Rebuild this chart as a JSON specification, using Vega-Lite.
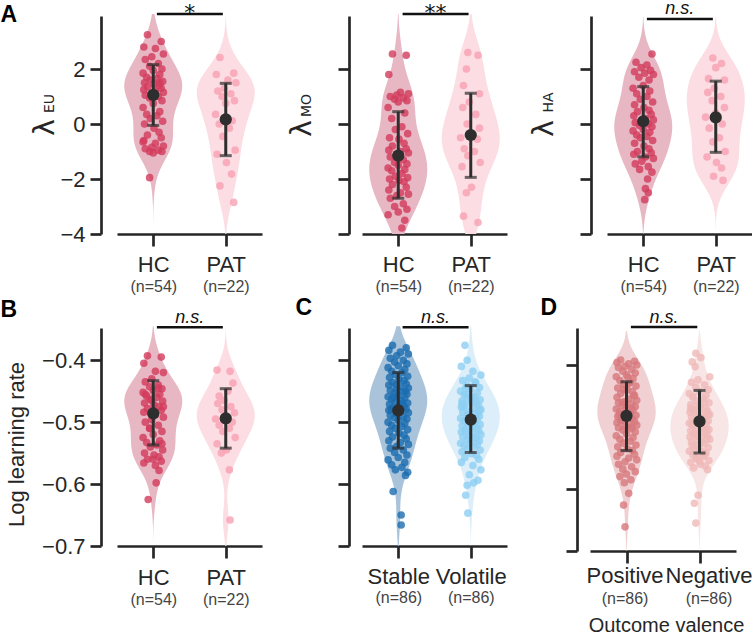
{
"$schema": "https://vega.github.io/schema/vega-lite/v6.json",
"padding": {"left": 0, "top": 0, "right": 0, "bottom": 0},
"bounds": "full",
"spacing": 2,
"config": {
  "view": {"stroke": null},
  "font": "Liberation Sans",
  "axis": {"grid": false, "domainColor": "#262626", "domainWidth": 2.7, "tickColor": "#262626", "tickWidth": 2.7, "tickSize": 12, "labelColor": "#262626", "labelFontSize": 22, "labelFont": "Liberation Sans", "titleColor": "#262626", "titleFont": "Liberation Sans", "titleFontWeight": "normal", "labelPadding": 5, "labelFlush": false, "labelOverlap": false}
},
"datasets": {
  "a1": [
    {"g":0,"v":3.25,"j":-0.08},{"g":0,"v":3.0,"j":0.11},{"g":0,"v":2.8,"j":-0.13},{"g":0,"v":2.75,"j":0.03},{"g":0,"v":2.55,"j":0.14},{"g":0,"v":2.45,"j":-0.02},{"g":0,"v":2.35,"j":-0.11},{"g":0,"v":2.2,"j":0.07},{"g":0,"v":2.1,"j":-0.05},{"g":0,"v":2.0,"j":0.12},
    {"g":0,"v":1.95,"j":0.0},{"g":0,"v":1.85,"j":-0.14},{"g":0,"v":1.8,"j":0.09},{"g":0,"v":1.7,"j":-0.09},{"g":0,"v":1.65,"j":0.05},{"g":0,"v":1.6,"j":-0.04},{"g":0,"v":1.55,"j":0.13},{"g":0,"v":1.5,"j":-0.12},{"g":0,"v":1.45,"j":0.01},{"g":0,"v":1.4,"j":0.08},
    {"g":0,"v":1.35,"j":-0.08},{"g":0,"v":1.3,"j":0.11},{"g":0,"v":1.25,"j":-0.13},{"g":0,"v":1.2,"j":0.03},{"g":0,"v":1.15,"j":0.14},{"g":0,"v":1.1,"j":-0.02},{"g":0,"v":1.05,"j":-0.11},{"g":0,"v":1.0,"j":0.07},{"g":0,"v":0.95,"j":-0.05},{"g":0,"v":0.85,"j":0.12},
    {"g":0,"v":0.75,"j":0.0},{"g":0,"v":0.6,"j":-0.14},{"g":0,"v":0.45,"j":0.09},{"g":0,"v":0.35,"j":-0.09},{"g":0,"v":0.3,"j":0.05},{"g":0,"v":0.2,"j":-0.04},{"g":0,"v":0.1,"j":0.13},{"g":0,"v":0.0,"j":-0.12},{"g":0,"v":-0.15,"j":0.01},{"g":0,"v":-0.3,"j":0.08},
    {"g":0,"v":-0.4,"j":-0.08},{"g":0,"v":-0.5,"j":0.11},{"g":0,"v":-0.6,"j":-0.13},{"g":0,"v":-0.7,"j":0.03},{"g":0,"v":-0.8,"j":0.14},{"g":0,"v":-0.85,"j":-0.02},{"g":0,"v":-0.9,"j":-0.11},{"g":0,"v":-0.95,"j":0.07},{"g":0,"v":-1.0,"j":-0.05},{"g":0,"v":-1.0,"j":0.12},
    {"g":0,"v":-1.05,"j":0.0},{"g":0,"v":-0.65,"j":-0.14},{"g":0,"v":1.5,"j":0.09},{"g":0,"v":-1.95,"j":-0.05},
    {"g":1,"v":2.42,"j":-0.08},{"g":1,"v":1.85,"j":0.11},{"g":1,"v":1.8,"j":-0.13},{"g":1,"v":1.6,"j":0.03},{"g":1,"v":1.5,"j":0.14},{"g":1,"v":1.3,"j":-0.02},{"g":1,"v":1.2,"j":-0.11},{"g":1,"v":1.1,"j":0.07},{"g":1,"v":1.0,"j":-0.05},{"g":1,"v":0.85,"j":0.12},
    {"g":1,"v":0.75,"j":0.0},{"g":1,"v":0.35,"j":-0.14},{"g":1,"v":0.12,"j":0.09},{"g":1,"v":0.0,"j":-0.09},{"g":1,"v":-0.15,"j":0.05},{"g":1,"v":-0.45,"j":-0.04},{"g":1,"v":-0.95,"j":0.13},{"g":1,"v":-1.1,"j":-0.12},{"g":1,"v":-1.4,"j":0.01},{"g":1,"v":-1.82,"j":0.08},
    {"g":1,"v":-2.25,"j":-0.08},{"g":1,"v":-2.85,"j":0.11}
  ],
  "a1s": [{"g":0,"m":1.06,"lo":-0.05,"hi":2.16},{"g":1,"m":0.17,"lo":-1.15,"hi":1.48}],
  "a1g": [{"x1":0.05,"x2":0.96,"xm":0.505,"y":4.0,"t":"*"}],
  "a2": [
    {"g":0,"v":2.55,"j":-0.08},{"g":0,"v":2.5,"j":0.11},{"g":0,"v":1.8,"j":-0.13},{"g":0,"v":1.15,"j":0.03},{"g":0,"v":1.1,"j":0.14},{"g":0,"v":1.05,"j":-0.02},{"g":0,"v":1.0,"j":-0.11},{"g":0,"v":0.95,"j":0.07},{"g":0,"v":0.9,"j":-0.05},{"g":0,"v":0.85,"j":0.12},
    {"g":0,"v":0.8,"j":0.0},{"g":0,"v":0.6,"j":-0.14},{"g":0,"v":0.4,"j":0.09},{"g":0,"v":0.2,"j":-0.09},{"g":0,"v":-0.1,"j":0.05},{"g":0,"v":-0.2,"j":-0.04},{"g":0,"v":-0.35,"j":0.13},{"g":0,"v":-0.5,"j":-0.12},{"g":0,"v":-0.55,"j":0.01},{"g":0,"v":-0.7,"j":0.08},
    {"g":0,"v":-0.8,"j":-0.08},{"g":0,"v":-0.9,"j":0.11},{"g":0,"v":-0.95,"j":-0.13},{"g":0,"v":-1.0,"j":0.03},{"g":0,"v":-1.05,"j":0.14},{"g":0,"v":-1.1,"j":-0.02},{"g":0,"v":-1.2,"j":-0.11},{"g":0,"v":-1.3,"j":0.07},{"g":0,"v":-1.4,"j":-0.05},{"g":0,"v":-1.45,"j":0.12},
    {"g":0,"v":-1.5,"j":0.0},{"g":0,"v":-1.6,"j":-0.14},{"g":0,"v":-1.65,"j":0.09},{"g":0,"v":-1.7,"j":-0.09},{"g":0,"v":-1.8,"j":0.05},{"g":0,"v":-1.9,"j":-0.04},{"g":0,"v":-1.95,"j":0.13},{"g":0,"v":-2.0,"j":-0.12},{"g":0,"v":-2.05,"j":0.01},{"g":0,"v":-2.1,"j":0.08},
    {"g":0,"v":-2.2,"j":-0.08},{"g":0,"v":-2.3,"j":0.11},{"g":0,"v":-2.4,"j":-0.13},{"g":0,"v":-2.5,"j":0.03},{"g":0,"v":-2.55,"j":0.14},{"g":0,"v":-2.6,"j":-0.02},{"g":0,"v":-2.7,"j":-0.11},{"g":0,"v":-2.9,"j":0.07},{"g":0,"v":-3.0,"j":-0.05},{"g":0,"v":-3.1,"j":0.12},
    {"g":0,"v":-3.2,"j":0.0},{"g":0,"v":-3.3,"j":-0.14},{"g":0,"v":-3.5,"j":0.09},{"g":0,"v":-3.78,"j":0.05},
    {"g":1,"v":2.6,"j":-0.04},{"g":1,"v":2.5,"j":0.1},{"g":1,"v":2.0,"j":-0.06},{"g":1,"v":1.4,"j":-0.1},{"g":1,"v":1.1,"j":0.12},{"g":1,"v":0.8,"j":-0.02},{"g":1,"v":0.6,"j":-0.11},{"g":1,"v":0.35,"j":0.07},{"g":1,"v":0.0,"j":-0.05},{"g":1,"v":-0.15,"j":0.12},
    {"g":1,"v":-0.35,"j":0.0},{"g":1,"v":-0.5,"j":-0.14},{"g":1,"v":-0.55,"j":0.09},{"g":1,"v":-0.9,"j":-0.09},{"g":1,"v":-1.0,"j":0.05},{"g":1,"v":-1.15,"j":-0.04},{"g":1,"v":-1.4,"j":0.13},{"g":1,"v":-1.55,"j":-0.12},{"g":1,"v":-2.3,"j":0.01},{"g":1,"v":-2.5,"j":-0.06},
    {"g":1,"v":-3.35,"j":-0.1},{"g":1,"v":-3.58,"j":0.1}
  ],
  "a2s": [{"g":0,"m":-1.15,"lo":-2.7,"hi":0.45},{"g":1,"m":-0.4,"lo":-1.94,"hi":1.12}],
  "a2g": [{"x1":0.06,"x2":0.97,"xm":0.515,"y":4.0,"t":"**"}],
  "a3": [
    {"g":0,"v":2.55,"j":0.12},{"g":0,"v":2.25,"j":-0.1},{"g":0,"v":2.15,"j":0.05},{"g":0,"v":2.05,"j":-0.03},{"g":0,"v":1.95,"j":0.1},{"g":0,"v":1.9,"j":-0.12},{"g":0,"v":1.85,"j":0.02},{"g":0,"v":1.8,"j":0.14},{"g":0,"v":1.7,"j":-0.06},{"g":0,"v":1.6,"j":0.08},
    {"g":0,"v":1.4,"j":0.0},{"g":0,"v":1.3,"j":-0.14},{"g":0,"v":1.2,"j":0.09},{"g":0,"v":1.1,"j":-0.09},{"g":0,"v":1.0,"j":0.05},{"g":0,"v":0.9,"j":-0.04},{"g":0,"v":0.8,"j":0.13},{"g":0,"v":0.7,"j":-0.12},{"g":0,"v":0.6,"j":0.01},{"g":0,"v":0.5,"j":0.08},
    {"g":0,"v":0.45,"j":-0.08},{"g":0,"v":0.35,"j":0.11},{"g":0,"v":0.3,"j":-0.13},{"g":0,"v":0.2,"j":0.03},{"g":0,"v":0.15,"j":0.14},{"g":0,"v":0.1,"j":-0.02},{"g":0,"v":0.05,"j":-0.11},{"g":0,"v":0.0,"j":0.07},{"g":0,"v":-0.05,"j":-0.05},{"g":0,"v":-0.1,"j":0.12},
    {"g":0,"v":-0.2,"j":0.0},{"g":0,"v":-0.25,"j":-0.14},{"g":0,"v":-0.3,"j":0.09},{"g":0,"v":-0.4,"j":-0.09},{"g":0,"v":-0.45,"j":0.05},{"g":0,"v":-0.5,"j":-0.04},{"g":0,"v":-0.6,"j":0.13},{"g":0,"v":-0.7,"j":-0.12},{"g":0,"v":-0.8,"j":0.01},{"g":0,"v":-0.9,"j":0.08},
    {"g":0,"v":-1.0,"j":-0.08},{"g":0,"v":-1.05,"j":0.11},{"g":0,"v":-1.1,"j":-0.13},{"g":0,"v":-1.2,"j":0.03},{"g":0,"v":-1.25,"j":0.14},{"g":0,"v":-1.35,"j":-0.02},{"g":0,"v":-1.45,"j":-0.11},{"g":0,"v":-1.55,"j":0.07},{"g":0,"v":-1.65,"j":-0.05},{"g":0,"v":-1.75,"j":0.12},
    {"g":0,"v":-2.0,"j":0.06},{"g":0,"v":-2.35,"j":0.03},{"g":0,"v":-2.5,"j":0.07},{"g":0,"v":-2.75,"j":0.02},
    {"g":1,"v":2.4,"j":-0.04},{"g":1,"v":2.2,"j":0.08},{"g":1,"v":2.05,"j":0.0},{"g":1,"v":1.65,"j":-0.1},{"g":1,"v":1.6,"j":0.12},{"g":1,"v":1.3,"j":-0.02},{"g":1,"v":1.15,"j":-0.11},{"g":1,"v":1.0,"j":0.07},{"g":1,"v":0.85,"j":-0.05},{"g":1,"v":0.6,"j":0.12},
    {"g":1,"v":0.4,"j":0.0},{"g":1,"v":0.25,"j":-0.14},{"g":1,"v":0.0,"j":0.09},{"g":1,"v":-0.15,"j":-0.09},{"g":1,"v":-0.5,"j":0.05},{"g":1,"v":-0.65,"j":-0.04},{"g":1,"v":-1.0,"j":0.13},{"g":1,"v":-1.2,"j":-0.12},{"g":1,"v":-1.4,"j":0.01},{"g":1,"v":-1.6,"j":0.08},
    {"g":1,"v":-1.9,"j":-0.03},{"g":1,"v":-2.05,"j":0.1}
  ],
  "a3s": [{"g":0,"m":0.1,"lo":-1.19,"hi":1.36},{"g":1,"m":0.24,"lo":-1.03,"hi":1.56}],
  "a3g": [{"x1":0.05,"x2":0.96,"xm":0.505,"y":3.82,"t":"n.s."}],
  "b": [
    {"g":0,"v":-0.393,"j":-0.08},{"g":0,"v":-0.395,"j":0.11},{"g":0,"v":-0.405,"j":-0.13},{"g":0,"v":-0.418,"j":0.03},{"g":0,"v":-0.42,"j":0.14},{"g":0,"v":-0.43,"j":-0.02},{"g":0,"v":-0.435,"j":-0.11},{"g":0,"v":-0.44,"j":0.07},{"g":0,"v":-0.443,"j":-0.05},{"g":0,"v":-0.446,"j":0.12},
    {"g":0,"v":-0.449,"j":0.0},{"g":0,"v":-0.452,"j":-0.14},{"g":0,"v":-0.455,"j":0.09},{"g":0,"v":-0.458,"j":-0.09},{"g":0,"v":-0.46,"j":0.05},{"g":0,"v":-0.463,"j":-0.04},{"g":0,"v":-0.466,"j":0.13},{"g":0,"v":-0.469,"j":-0.12},{"g":0,"v":-0.472,"j":0.01},{"g":0,"v":-0.475,"j":0.08},
    {"g":0,"v":-0.478,"j":-0.08},{"g":0,"v":-0.481,"j":0.11},{"g":0,"v":-0.484,"j":-0.13},{"g":0,"v":-0.488,"j":0.03},{"g":0,"v":-0.492,"j":0.14},{"g":0,"v":-0.496,"j":-0.02},{"g":0,"v":-0.5,"j":-0.11},{"g":0,"v":-0.505,"j":0.07},{"g":0,"v":-0.51,"j":-0.05},{"g":0,"v":-0.515,"j":0.12},
    {"g":0,"v":-0.52,"j":0.0},{"g":0,"v":-0.525,"j":-0.14},{"g":0,"v":-0.53,"j":0.09},{"g":0,"v":-0.533,"j":-0.09},{"g":0,"v":-0.537,"j":0.05},{"g":0,"v":-0.54,"j":-0.04},{"g":0,"v":-0.545,"j":0.13},{"g":0,"v":-0.55,"j":-0.12},{"g":0,"v":-0.553,"j":0.01},{"g":0,"v":-0.556,"j":0.08},
    {"g":0,"v":-0.56,"j":-0.08},{"g":0,"v":-0.563,"j":0.11},{"g":0,"v":-0.566,"j":-0.13},{"g":0,"v":-0.57,"j":0.03},{"g":0,"v":-0.475,"j":0.14},{"g":0,"v":-0.465,"j":-0.02},{"g":0,"v":-0.455,"j":-0.11},{"g":0,"v":-0.445,"j":0.07},{"g":0,"v":-0.51,"j":-0.05},{"g":0,"v":-0.535,"j":0.12},
    {"g":0,"v":-0.56,"j":0.0},{"g":0,"v":-0.598,"j":0.04},{"g":0,"v":-0.578,"j":0.08},{"g":0,"v":-0.625,"j":-0.07},
    {"g":1,"v":-0.416,"j":-0.12},{"g":1,"v":-0.418,"j":0.06},{"g":1,"v":-0.437,"j":0.1},{"g":1,"v":-0.45,"j":0.03},{"g":1,"v":-0.458,"j":-0.09},{"g":1,"v":-0.465,"j":-0.02},{"g":1,"v":-0.47,"j":-0.11},{"g":1,"v":-0.475,"j":0.07},{"g":1,"v":-0.48,"j":-0.05},{"g":1,"v":-0.485,"j":0.12},
    {"g":1,"v":-0.49,"j":0.0},{"g":1,"v":-0.495,"j":-0.14},{"g":1,"v":-0.5,"j":0.09},{"g":1,"v":-0.505,"j":-0.09},{"g":1,"v":-0.51,"j":0.05},{"g":1,"v":-0.515,"j":-0.04},{"g":1,"v":-0.525,"j":0.13},{"g":1,"v":-0.535,"j":-0.12},{"g":1,"v":-0.545,"j":0.01},{"g":1,"v":-0.55,"j":-0.06},
    {"g":1,"v":-0.577,"j":0.05},{"g":1,"v":-0.658,"j":0.06}
  ],
  "bs": [{"g":0,"m":-0.486,"lo":-0.537,"hi":-0.433},{"g":1,"m":-0.494,"lo":-0.542,"hi":-0.446}],
  "bg": [{"x1":0.05,"x2":0.96,"xm":0.505,"y":-0.3468,"t":"n.s."}],
  "c": [
    {"g":0,"v":-0.376,"j":-0.08},{"g":0,"v":-0.38,"j":0.11},{"g":0,"v":-0.384,"j":-0.13},{"g":0,"v":-0.387,"j":0.03},{"g":0,"v":-0.39,"j":0.14},{"g":0,"v":-0.393,"j":-0.02},{"g":0,"v":-0.397,"j":-0.11},{"g":0,"v":-0.4,"j":0.07},{"g":0,"v":-0.403,"j":-0.05},{"g":0,"v":-0.406,"j":0.12},
    {"g":0,"v":-0.409,"j":0.0},{"g":0,"v":-0.412,"j":-0.14},{"g":0,"v":-0.415,"j":0.09},{"g":0,"v":-0.418,"j":-0.09},{"g":0,"v":-0.42,"j":0.05},{"g":0,"v":-0.423,"j":-0.04},{"g":0,"v":-0.426,"j":0.13},{"g":0,"v":-0.428,"j":-0.12},{"g":0,"v":-0.431,"j":0.01},{"g":0,"v":-0.433,"j":0.08},
    {"g":0,"v":-0.436,"j":-0.08},{"g":0,"v":-0.438,"j":0.11},{"g":0,"v":-0.44,"j":-0.13},{"g":0,"v":-0.443,"j":0.03},{"g":0,"v":-0.445,"j":0.14},{"g":0,"v":-0.447,"j":-0.02},{"g":0,"v":-0.449,"j":-0.11},{"g":0,"v":-0.451,"j":0.07},{"g":0,"v":-0.453,"j":-0.05},{"g":0,"v":-0.455,"j":0.12},
    {"g":0,"v":-0.457,"j":0.0},{"g":0,"v":-0.459,"j":-0.14},{"g":0,"v":-0.461,"j":0.09},{"g":0,"v":-0.463,"j":-0.09},{"g":0,"v":-0.465,"j":0.05},{"g":0,"v":-0.467,"j":-0.04},{"g":0,"v":-0.469,"j":0.13},{"g":0,"v":-0.471,"j":-0.12},{"g":0,"v":-0.473,"j":0.01},{"g":0,"v":-0.475,"j":0.08},
    {"g":0,"v":-0.477,"j":-0.08},{"g":0,"v":-0.479,"j":0.11},{"g":0,"v":-0.481,"j":-0.13},{"g":0,"v":-0.483,"j":0.03},{"g":0,"v":-0.485,"j":0.14},{"g":0,"v":-0.487,"j":-0.02},{"g":0,"v":-0.489,"j":-0.11},{"g":0,"v":-0.491,"j":0.07},{"g":0,"v":-0.493,"j":-0.05},{"g":0,"v":-0.495,"j":0.12},
    {"g":0,"v":-0.497,"j":0.0},{"g":0,"v":-0.5,"j":-0.14},{"g":0,"v":-0.502,"j":0.09},{"g":0,"v":-0.505,"j":-0.09},{"g":0,"v":-0.507,"j":0.05},{"g":0,"v":-0.51,"j":-0.04},{"g":0,"v":-0.512,"j":0.13},{"g":0,"v":-0.515,"j":-0.12},{"g":0,"v":-0.518,"j":0.01},{"g":0,"v":-0.521,"j":0.08},
    {"g":0,"v":-0.524,"j":-0.08},{"g":0,"v":-0.527,"j":0.11},{"g":0,"v":-0.53,"j":-0.13},{"g":0,"v":-0.533,"j":0.03},{"g":0,"v":-0.536,"j":0.14},{"g":0,"v":-0.539,"j":-0.02},{"g":0,"v":-0.542,"j":-0.11},{"g":0,"v":-0.545,"j":0.07},{"g":0,"v":-0.549,"j":-0.05},{"g":0,"v":-0.553,"j":0.12},
    {"g":0,"v":-0.557,"j":0.0},{"g":0,"v":-0.561,"j":-0.14},{"g":0,"v":-0.565,"j":0.09},{"g":0,"v":-0.569,"j":-0.09},{"g":0,"v":-0.573,"j":0.05},{"g":0,"v":-0.577,"j":-0.04},{"g":0,"v":-0.581,"j":0.13},{"g":0,"v":-0.586,"j":0.1},{"g":0,"v":-0.612,"j":-0.07},{"g":0,"v":-0.65,"j":0.04},
    {"g":0,"v":-0.666,"j":0.04},{"g":0,"v":-0.46,"j":-0.06},{"g":0,"v":-0.47,"j":0.06},{"g":0,"v":-0.48,"j":-0.1},{"g":0,"v":-0.45,"j":0.1},{"g":0,"v":-0.44,"j":-0.03},
    {"g":1,"v":-0.376,"j":-0.08},{"g":1,"v":-0.4,"j":-0.05},{"g":1,"v":-0.41,"j":-0.13},{"g":1,"v":-0.418,"j":0.03},{"g":1,"v":-0.424,"j":0.14},{"g":1,"v":-0.429,"j":-0.02},{"g":1,"v":-0.433,"j":-0.11},{"g":1,"v":-0.437,"j":0.07},{"g":1,"v":-0.441,"j":-0.05},{"g":1,"v":-0.444,"j":0.12},
    {"g":1,"v":-0.447,"j":0.0},{"g":1,"v":-0.45,"j":-0.14},{"g":1,"v":-0.453,"j":0.09},{"g":1,"v":-0.456,"j":-0.09},{"g":1,"v":-0.459,"j":0.05},{"g":1,"v":-0.462,"j":-0.04},{"g":1,"v":-0.464,"j":0.13},{"g":1,"v":-0.466,"j":-0.12},{"g":1,"v":-0.468,"j":0.01},{"g":1,"v":-0.47,"j":0.08},
    {"g":1,"v":-0.472,"j":-0.08},{"g":1,"v":-0.474,"j":0.11},{"g":1,"v":-0.476,"j":-0.13},{"g":1,"v":-0.478,"j":0.03},{"g":1,"v":-0.48,"j":0.14},{"g":1,"v":-0.482,"j":-0.02},{"g":1,"v":-0.484,"j":-0.11},{"g":1,"v":-0.486,"j":0.07},{"g":1,"v":-0.488,"j":-0.05},{"g":1,"v":-0.49,"j":0.12},
    {"g":1,"v":-0.492,"j":0.0},{"g":1,"v":-0.494,"j":-0.14},{"g":1,"v":-0.496,"j":0.09},{"g":1,"v":-0.498,"j":-0.09},{"g":1,"v":-0.5,"j":0.05},{"g":1,"v":-0.502,"j":-0.04},{"g":1,"v":-0.504,"j":0.13},{"g":1,"v":-0.506,"j":-0.12},{"g":1,"v":-0.508,"j":0.01},{"g":1,"v":-0.51,"j":0.08},
    {"g":1,"v":-0.512,"j":-0.08},{"g":1,"v":-0.514,"j":0.11},{"g":1,"v":-0.516,"j":-0.13},{"g":1,"v":-0.518,"j":0.03},{"g":1,"v":-0.52,"j":0.14},{"g":1,"v":-0.522,"j":-0.02},{"g":1,"v":-0.524,"j":-0.11},{"g":1,"v":-0.526,"j":0.07},{"g":1,"v":-0.528,"j":-0.05},{"g":1,"v":-0.53,"j":0.12},
    {"g":1,"v":-0.532,"j":0.0},{"g":1,"v":-0.534,"j":-0.14},{"g":1,"v":-0.536,"j":0.09},{"g":1,"v":-0.538,"j":-0.09},{"g":1,"v":-0.54,"j":0.05},{"g":1,"v":-0.542,"j":-0.04},{"g":1,"v":-0.545,"j":0.13},{"g":1,"v":-0.548,"j":-0.12},{"g":1,"v":-0.551,"j":0.01},{"g":1,"v":-0.554,"j":0.08},
    {"g":1,"v":-0.557,"j":-0.08},{"g":1,"v":-0.56,"j":0.11},{"g":1,"v":-0.565,"j":-0.13},{"g":1,"v":-0.57,"j":0.03},{"g":1,"v":-0.577,"j":0.14},{"g":1,"v":-0.585,"j":-0.02},{"g":1,"v":-0.594,"j":0.1},{"g":1,"v":-0.598,"j":0.04},{"g":1,"v":-0.602,"j":-0.05},{"g":1,"v":-0.618,"j":-0.07},
    {"g":1,"v":-0.647,"j":-0.04},{"g":1,"v":-0.455,"j":-0.06},{"g":1,"v":-0.465,"j":0.06},{"g":1,"v":-0.475,"j":-0.1},{"g":1,"v":-0.485,"j":0.1},{"g":1,"v":-0.495,"j":-0.03},{"g":1,"v":-0.505,"j":0.03},{"g":1,"v":-0.515,"j":-0.07},{"g":1,"v":-0.525,"j":0.07},{"g":1,"v":-0.46,"j":0.0},
    {"g":1,"v":-0.47,"j":-0.12},{"g":1,"v":-0.48,"j":0.12},{"g":1,"v":-0.49,"j":-0.01},{"g":1,"v":-0.5,"j":0.02},{"g":1,"v":-0.445,"j":-0.07},{"g":1,"v":-0.435,"j":0.06}
  ],
  "cs": [{"g":0,"m":-0.481,"lo":-0.542,"hi":-0.42},{"g":1,"m":-0.496,"lo":-0.549,"hi":-0.441}],
  "cg": [{"x1":0.06,"x2":0.97,"xm":0.515,"y":-0.3468,"t":"n.s."}],
  "d": [
    {"g":0,"v":-0.392,"j":-0.08},{"g":0,"v":-0.394,"j":0.11},{"g":0,"v":-0.396,"j":-0.13},{"g":0,"v":-0.398,"j":0.03},{"g":0,"v":-0.4,"j":0.14},{"g":0,"v":-0.402,"j":-0.02},{"g":0,"v":-0.404,"j":-0.11},{"g":0,"v":-0.407,"j":0.07},{"g":0,"v":-0.41,"j":-0.05},{"g":0,"v":-0.413,"j":0.12},
    {"g":0,"v":-0.416,"j":0.0},{"g":0,"v":-0.419,"j":-0.14},{"g":0,"v":-0.422,"j":0.09},{"g":0,"v":-0.425,"j":-0.09},{"g":0,"v":-0.428,"j":0.05},{"g":0,"v":-0.431,"j":-0.04},{"g":0,"v":-0.434,"j":0.13},{"g":0,"v":-0.437,"j":-0.12},{"g":0,"v":-0.44,"j":0.01},{"g":0,"v":-0.443,"j":0.08},
    {"g":0,"v":-0.446,"j":-0.08},{"g":0,"v":-0.449,"j":0.11},{"g":0,"v":-0.452,"j":-0.13},{"g":0,"v":-0.455,"j":0.03},{"g":0,"v":-0.457,"j":0.14},{"g":0,"v":-0.459,"j":-0.02},{"g":0,"v":-0.461,"j":-0.11},{"g":0,"v":-0.463,"j":0.07},{"g":0,"v":-0.465,"j":-0.05},{"g":0,"v":-0.467,"j":0.12},
    {"g":0,"v":-0.469,"j":0.0},{"g":0,"v":-0.471,"j":-0.14},{"g":0,"v":-0.473,"j":0.09},{"g":0,"v":-0.475,"j":-0.09},{"g":0,"v":-0.477,"j":0.05},{"g":0,"v":-0.479,"j":-0.04},{"g":0,"v":-0.481,"j":0.13},{"g":0,"v":-0.483,"j":-0.12},{"g":0,"v":-0.485,"j":0.01},{"g":0,"v":-0.487,"j":0.08},
    {"g":0,"v":-0.489,"j":-0.08},{"g":0,"v":-0.491,"j":0.11},{"g":0,"v":-0.493,"j":-0.13},{"g":0,"v":-0.495,"j":0.03},{"g":0,"v":-0.497,"j":0.14},{"g":0,"v":-0.499,"j":-0.02},{"g":0,"v":-0.501,"j":-0.11},{"g":0,"v":-0.503,"j":0.07},{"g":0,"v":-0.505,"j":-0.05},{"g":0,"v":-0.508,"j":0.12},
    {"g":0,"v":-0.511,"j":0.0},{"g":0,"v":-0.514,"j":-0.14},{"g":0,"v":-0.517,"j":0.09},{"g":0,"v":-0.52,"j":-0.09},{"g":0,"v":-0.523,"j":0.05},{"g":0,"v":-0.526,"j":-0.04},{"g":0,"v":-0.529,"j":0.13},{"g":0,"v":-0.532,"j":-0.12},{"g":0,"v":-0.535,"j":0.01},{"g":0,"v":-0.538,"j":0.08},
    {"g":0,"v":-0.541,"j":-0.08},{"g":0,"v":-0.544,"j":0.11},{"g":0,"v":-0.547,"j":-0.13},{"g":0,"v":-0.55,"j":0.03},{"g":0,"v":-0.553,"j":0.14},{"g":0,"v":-0.556,"j":-0.02},{"g":0,"v":-0.56,"j":-0.11},{"g":0,"v":-0.564,"j":0.07},{"g":0,"v":-0.568,"j":-0.05},{"g":0,"v":-0.572,"j":0.12},
    {"g":0,"v":-0.576,"j":0.0},{"g":0,"v":-0.58,"j":-0.09},{"g":0,"v":-0.585,"j":0.06},{"g":0,"v":-0.59,"j":-0.03},{"g":0,"v":-0.607,"j":0.03},{"g":0,"v":-0.626,"j":-0.04},{"g":0,"v":-0.661,"j":-0.02},{"g":0,"v":-0.46,"j":-0.06},{"g":0,"v":-0.47,"j":0.06},{"g":0,"v":-0.48,"j":-0.1},
    {"g":0,"v":-0.45,"j":0.1},{"g":0,"v":-0.44,"j":-0.03},{"g":0,"v":-0.43,"j":0.03},{"g":0,"v":-0.49,"j":-0.07},{"g":0,"v":-0.5,"j":0.07},{"g":0,"v":-0.42,"j":0.02},
    {"g":1,"v":-0.381,"j":-0.05},{"g":1,"v":-0.388,"j":0.02},{"g":1,"v":-0.395,"j":-0.1},{"g":1,"v":-0.403,"j":-0.06},{"g":1,"v":-0.419,"j":0.14},{"g":1,"v":-0.424,"j":-0.02},{"g":1,"v":-0.428,"j":-0.11},{"g":1,"v":-0.432,"j":0.07},{"g":1,"v":-0.436,"j":-0.05},{"g":1,"v":-0.44,"j":0.12},
    {"g":1,"v":-0.443,"j":0.0},{"g":1,"v":-0.446,"j":-0.14},{"g":1,"v":-0.449,"j":0.09},{"g":1,"v":-0.452,"j":-0.09},{"g":1,"v":-0.455,"j":0.05},{"g":1,"v":-0.458,"j":-0.04},{"g":1,"v":-0.461,"j":0.13},{"g":1,"v":-0.464,"j":-0.12},{"g":1,"v":-0.467,"j":0.01},{"g":1,"v":-0.47,"j":0.08},
    {"g":1,"v":-0.472,"j":-0.08},{"g":1,"v":-0.474,"j":0.11},{"g":1,"v":-0.476,"j":-0.13},{"g":1,"v":-0.478,"j":0.03},{"g":1,"v":-0.48,"j":0.14},{"g":1,"v":-0.482,"j":-0.02},{"g":1,"v":-0.484,"j":-0.11},{"g":1,"v":-0.486,"j":0.07},{"g":1,"v":-0.488,"j":-0.05},{"g":1,"v":-0.49,"j":0.12},
    {"g":1,"v":-0.492,"j":0.0},{"g":1,"v":-0.494,"j":-0.14},{"g":1,"v":-0.496,"j":0.09},{"g":1,"v":-0.498,"j":-0.09},{"g":1,"v":-0.5,"j":0.05},{"g":1,"v":-0.502,"j":-0.04},{"g":1,"v":-0.504,"j":0.13},{"g":1,"v":-0.506,"j":-0.12},{"g":1,"v":-0.508,"j":0.01},{"g":1,"v":-0.51,"j":0.08},
    {"g":1,"v":-0.512,"j":-0.08},{"g":1,"v":-0.514,"j":0.11},{"g":1,"v":-0.516,"j":-0.13},{"g":1,"v":-0.518,"j":0.03},{"g":1,"v":-0.52,"j":0.14},{"g":1,"v":-0.522,"j":-0.02},{"g":1,"v":-0.524,"j":-0.11},{"g":1,"v":-0.527,"j":0.07},{"g":1,"v":-0.53,"j":-0.05},{"g":1,"v":-0.533,"j":0.12},
    {"g":1,"v":-0.536,"j":0.0},{"g":1,"v":-0.539,"j":-0.14},{"g":1,"v":-0.542,"j":0.09},{"g":1,"v":-0.545,"j":-0.09},{"g":1,"v":-0.548,"j":0.05},{"g":1,"v":-0.551,"j":-0.04},{"g":1,"v":-0.554,"j":0.13},{"g":1,"v":-0.557,"j":-0.12},{"g":1,"v":-0.56,"j":0.01},{"g":1,"v":-0.563,"j":0.08},
    {"g":1,"v":-0.566,"j":-0.08},{"g":1,"v":-0.569,"j":0.11},{"g":1,"v":-0.61,"j":-0.02},{"g":1,"v":-0.623,"j":-0.07},{"g":1,"v":-0.655,"j":-0.05},{"g":1,"v":-0.465,"j":-0.02},{"g":1,"v":-0.475,"j":-0.06},{"g":1,"v":-0.485,"j":0.06},{"g":1,"v":-0.495,"j":-0.1},{"g":1,"v":-0.505,"j":0.1},
    {"g":1,"v":-0.515,"j":-0.03},{"g":1,"v":-0.525,"j":0.03},{"g":1,"v":-0.535,"j":-0.07},{"g":1,"v":-0.545,"j":0.07},{"g":1,"v":-0.555,"j":0.0},{"g":1,"v":-0.47,"j":-0.12},{"g":1,"v":-0.48,"j":0.12},{"g":1,"v":-0.49,"j":-0.01},{"g":1,"v":-0.5,"j":0.02},{"g":1,"v":-0.51,"j":-0.07},
    {"g":1,"v":-0.46,"j":0.06},{"g":1,"v":-0.45,"j":-0.09},{"g":1,"v":-0.52,"j":0.1},{"g":1,"v":-0.53,"j":-0.1},{"g":1,"v":-0.54,"j":0.04},{"g":1,"v":-0.55,"j":-0.04}
  ],
  "ds": [{"g":0,"m":-0.482,"lo":-0.538,"hi":-0.427},{"g":1,"m":-0.491,"lo":-0.542,"hi":-0.441}],
  "dg": [{"x1":0.06,"x2":0.97,"xm":0.515,"y":-0.3387,"t":"n.s."}]
},
"vconcat": [
  {"hconcat": [
    {"width":145,"height":218,
     "layer":[
      {"layer":[
        {"data":{"name":"a1"},
         "transform":[{"density":"v","groupby":["g"],"extent":[-4,4],"steps":200,"bandwidth":0.6},{"joinaggregate":[{"op":"max","field":"density","as":"md"}],"groupby":["g"]},{"calculate":"datum.g-0.4*datum.density/datum.md","as":"xl"},{"calculate":"datum.g+0.4*datum.density/datum.md","as":"xr"}],
         "mark":{"type":"area","orient":"horizontal"},
         "encoding":{
           "y":{"field":"value","type":"quantitative","scale":{"domain":[-4,3.93],"nice":false,"zero":false},"axis":{"values":[-4,-2,0,2],"format":"d","offset":16,"tickSize":11,"labelPadding":5,"title":"λ","titleFont":"DejaVu Sans","titleFontSize":28,"titleAngle":270,"titleAlign":"center","titleBaseline":"alphabetic","titleX":-48,"titleY":111}},
           "x":{"field":"xl","type":"quantitative","scale":{"domain":[-0.5,1.5],"nice":false,"zero":false},"axis":{"values":[0,1],"labelExpr":"datum.value==0?'HC':'PAT'","title":null,"labelBaseline":"alphabetic","labelPadding":25}},
           "x2":{"field":"xr"},
           "detail":{"field":"g","type":"nominal"},
           "color":{"condition":{"test":"datum.g==0","value":"#e8b7c4"},"value":"#fbdde3"}}},
        {"data":{"name":"a1"},"transform":[{"calculate":"datum.g+datum.j","as":"px"}],
         "mark":{"type":"circle","size":58,"opacity":0.8},
         "encoding":{"x":{"field":"px","type":"quantitative"},"y":{"field":"v","type":"quantitative"},"color":{"condition":{"test":"datum.g==0","value":"#d23b5c"},"value":"#f9a1b2"}}},
        {"data":{"name":"a1s"},"mark":{"type":"rule","strokeWidth":3,"color":"#2e2e2e"},
         "encoding":{"x":{"field":"g","type":"quantitative"},"y":{"field":"lo","type":"quantitative"},"y2":{"field":"hi"}}},
        {"data":{"name":"a1s"},"transform":[{"fold":["lo","hi"],"as":["k","e"]}],"mark":{"type":"tick","orient":"horizontal","size":12,"thickness":3,"color":"#2e2e2e"},
         "encoding":{"x":{"field":"g","type":"quantitative"},"y":{"field":"e","type":"quantitative"}}},
        {"data":{"name":"a1s"},"mark":{"type":"circle","size":150,"opacity":1,"color":"#2e2e2e"},
         "encoding":{"x":{"field":"g","type":"quantitative"},"y":{"field":"m","type":"quantitative"}}},
        {"data":{"name":"a1g"},"mark":{"type":"rule","strokeWidth":2.5,"color":"#111111"},
         "encoding":{"x":{"field":"x1","type":"quantitative"},"x2":{"field":"x2"},"y":{"field":"y","type":"quantitative"}}},
        {"data":{"name":"a1g"},"mark":{"type":"text","baseline":"alphabetic","dy":6,"font":"DejaVu Sans","fontSize":22,"color":"#111111"},
         "encoding":{"x":{"field":"xm","type":"quantitative"},"y":{"field":"y","type":"quantitative"},"text":{"field":"t"}}}
      ]},
      {"data":{"name":"a1s"},"mark":{"type":"point","opacity":0},
       "encoding":{
         "x":{"field":"g","type":"quantitative","axis":{"orient":"bottom","values":[0,1],"labelExpr":"datum.value==0?'(n=54)':'(n=22)'","domain":false,"ticks":false,"labelFontSize":16,"labelPadding":57,"labelBaseline":"alphabetic","labelColor":"#444444","title":"A","titleX":-117,"titleY":-213,"titleAlign":"left","titleBaseline":"alphabetic","titleAngle":0,"titleFontSize":23,"titleFontWeight":"bold","titleColor":"#000000"}},
         "y":{"field":"m","type":"quantitative","axis":{"orient":"left","labels":false,"ticks":false,"domain":false,"title":"EU","titleFont":"DejaVu Sans","titleFontSize":14,"titleAngle":270,"titleAlign":"center","titleBaseline":"alphabetic","titleX":-64,"titleY":87}}}}
     ],
     "resolve":{"axis":{"x":"independent","y":"independent"}}},
    {"width":145,"height":218,
     "layer":[
      {"layer":[
        {"data":{"name":"a2"},
         "transform":[{"density":"v","groupby":["g"],"extent":[-4,4],"steps":200,"bandwidth":0.7},{"joinaggregate":[{"op":"max","field":"density","as":"md"}],"groupby":["g"]},{"calculate":"datum.g-0.4*datum.density/datum.md","as":"xl"},{"calculate":"datum.g+0.4*datum.density/datum.md","as":"xr"}],
         "mark":{"type":"area","orient":"horizontal"},
         "encoding":{
           "y":{"field":"value","type":"quantitative","scale":{"domain":[-4,3.93],"nice":false,"zero":false},"axis":{"values":[-4,-2,0,2],"labels":false,"offset":13,"tickSize":11,"title":"λ","titleFont":"DejaVu Sans","titleFontSize":28,"titleAngle":270,"titleAlign":"center","titleBaseline":"alphabetic","titleX":-39,"titleY":112}},
           "x":{"field":"xl","type":"quantitative","scale":{"domain":[-0.5,1.5],"nice":false,"zero":false},"axis":{"values":[0,1],"labelExpr":"datum.value==0?'HC':'PAT'","title":null,"labelBaseline":"alphabetic","labelPadding":25}},
           "x2":{"field":"xr"},
           "detail":{"field":"g","type":"nominal"},
           "color":{"condition":{"test":"datum.g==0","value":"#e8b7c4"},"value":"#fbdde3"}}},
        {"data":{"name":"a2"},"transform":[{"calculate":"datum.g+datum.j","as":"px"}],
         "mark":{"type":"circle","size":58,"opacity":0.8},
         "encoding":{"x":{"field":"px","type":"quantitative"},"y":{"field":"v","type":"quantitative"},"color":{"condition":{"test":"datum.g==0","value":"#d23b5c"},"value":"#f9a1b2"}}},
        {"data":{"name":"a2s"},"mark":{"type":"rule","strokeWidth":3,"color":"#2e2e2e"},
         "encoding":{"x":{"field":"g","type":"quantitative"},"y":{"field":"lo","type":"quantitative"},"y2":{"field":"hi"}}},
        {"data":{"name":"a2s"},"transform":[{"fold":["lo","hi"],"as":["k","e"]}],"mark":{"type":"tick","orient":"horizontal","size":12,"thickness":3,"color":"#2e2e2e"},
         "encoding":{"x":{"field":"g","type":"quantitative"},"y":{"field":"e","type":"quantitative"}}},
        {"data":{"name":"a2s"},"mark":{"type":"circle","size":150,"opacity":1,"color":"#2e2e2e"},
         "encoding":{"x":{"field":"g","type":"quantitative"},"y":{"field":"m","type":"quantitative"}}},
        {"data":{"name":"a2g"},"mark":{"type":"rule","strokeWidth":2.5,"color":"#111111"},
         "encoding":{"x":{"field":"x1","type":"quantitative"},"x2":{"field":"x2"},"y":{"field":"y","type":"quantitative"}}},
        {"data":{"name":"a2g"},"mark":{"type":"text","baseline":"alphabetic","dy":6,"font":"DejaVu Sans","fontSize":22,"color":"#111111"},
         "encoding":{"x":{"field":"xm","type":"quantitative"},"y":{"field":"y","type":"quantitative"},"text":{"field":"t"}}}
      ]},
      {"data":{"name":"a2s"},"mark":{"type":"point","opacity":0},
       "encoding":{
         "x":{"field":"g","type":"quantitative","axis":{"orient":"bottom","values":[0,1],"labelExpr":"datum.value==0?'(n=54)':'(n=22)'","domain":false,"ticks":false,"labelFontSize":16,"labelPadding":57,"labelBaseline":"alphabetic","labelColor":"#444444","title":null}},
         "y":{"field":"m","type":"quantitative","axis":{"orient":"left","labels":false,"ticks":false,"domain":false,"title":"MO","titleFont":"DejaVu Sans","titleFontSize":14,"titleAngle":270,"titleAlign":"center","titleBaseline":"alphabetic","titleX":-52,"titleY":89}}}}
     ],
     "resolve":{"axis":{"x":"independent","y":"independent"}}},
    {"width":145,"height":218,
     "layer":[
      {"layer":[
        {"data":{"name":"a3"},
         "transform":[{"density":"v","groupby":["g"],"extent":[-4,3.9],"steps":200,"bandwidth":0.6},{"joinaggregate":[{"op":"max","field":"density","as":"md"}],"groupby":["g"]},{"calculate":"datum.g-0.4*datum.density/datum.md","as":"xl"},{"calculate":"datum.g+0.4*datum.density/datum.md","as":"xr"}],
         "mark":{"type":"area","orient":"horizontal"},
         "encoding":{
           "y":{"field":"value","type":"quantitative","scale":{"domain":[-4,3.93],"nice":false,"zero":false},"axis":{"values":[-4,-2,0,2],"labels":false,"offset":16,"tickSize":11,"title":"λ","titleFont":"DejaVu Sans","titleFontSize":28,"titleAngle":270,"titleAlign":"center","titleBaseline":"alphabetic","titleX":-39,"titleY":112}},
           "x":{"field":"xl","type":"quantitative","scale":{"domain":[-0.5,1.5],"nice":false,"zero":false},"axis":{"values":[0,1],"labelExpr":"datum.value==0?'HC':'PAT'","title":null,"labelBaseline":"alphabetic","labelPadding":25}},
           "x2":{"field":"xr"},
           "detail":{"field":"g","type":"nominal"},
           "color":{"condition":{"test":"datum.g==0","value":"#e8b7c4"},"value":"#fbdde3"}}},
        {"data":{"name":"a3"},"transform":[{"calculate":"datum.g+datum.j","as":"px"}],
         "mark":{"type":"circle","size":58,"opacity":0.8},
         "encoding":{"x":{"field":"px","type":"quantitative"},"y":{"field":"v","type":"quantitative"},"color":{"condition":{"test":"datum.g==0","value":"#d23b5c"},"value":"#f9a1b2"}}},
        {"data":{"name":"a3s"},"mark":{"type":"rule","strokeWidth":3,"color":"#2e2e2e"},
         "encoding":{"x":{"field":"g","type":"quantitative"},"y":{"field":"lo","type":"quantitative"},"y2":{"field":"hi"}}},
        {"data":{"name":"a3s"},"transform":[{"fold":["lo","hi"],"as":["k","e"]}],"mark":{"type":"tick","orient":"horizontal","size":12,"thickness":3,"color":"#2e2e2e"},
         "encoding":{"x":{"field":"g","type":"quantitative"},"y":{"field":"e","type":"quantitative"}}},
        {"data":{"name":"a3s"},"mark":{"type":"circle","size":150,"opacity":1,"color":"#2e2e2e"},
         "encoding":{"x":{"field":"g","type":"quantitative"},"y":{"field":"m","type":"quantitative"}}},
        {"data":{"name":"a3g"},"mark":{"type":"rule","strokeWidth":2.5,"color":"#111111"},
         "encoding":{"x":{"field":"x1","type":"quantitative"},"x2":{"field":"x2"},"y":{"field":"y","type":"quantitative"}}},
        {"data":{"name":"a3g"},"mark":{"type":"text","baseline":"alphabetic","dy":-5,"fontSize":18,"fontStyle":"italic","color":"#111111"},
         "encoding":{"x":{"field":"xm","type":"quantitative"},"y":{"field":"y","type":"quantitative"},"text":{"field":"t"}}}
      ]},
      {"data":{"name":"a3s"},"mark":{"type":"point","opacity":0},
       "encoding":{
         "x":{"field":"g","type":"quantitative","axis":{"orient":"bottom","values":[0,1],"labelExpr":"datum.value==0?'(n=54)':'(n=22)'","domain":false,"ticks":false,"labelFontSize":16,"labelPadding":57,"labelBaseline":"alphabetic","labelColor":"#444444","title":null}},
         "y":{"field":"m","type":"quantitative","axis":{"orient":"left","labels":false,"ticks":false,"domain":false,"title":"HA","titleFont":"DejaVu Sans","titleFontSize":14,"titleAngle":270,"titleAlign":"center","titleBaseline":"alphabetic","titleX":-55,"titleY":86}}}}
     ],
     "resolve":{"axis":{"x":"independent","y":"independent"}}}
  ], "spacing": 100, "bounds": "flush"},
  {"hconcat": [
    {"hconcat": [
      {"width":145,"height":218,
       "layer":[
        {"layer":[
          {"data":{"name":"b"},
           "transform":[{"density":"v","groupby":["g"],"extent":[-0.7,-0.345],"steps":200,"bandwidth":0.024},{"joinaggregate":[{"op":"max","field":"density","as":"md"}],"groupby":["g"]},{"calculate":"datum.g-0.4*datum.density/datum.md","as":"xl"},{"calculate":"datum.g+0.4*datum.density/datum.md","as":"xr"}],
           "mark":{"type":"area","orient":"horizontal"},
           "encoding":{
             "y":{"field":"value","type":"quantitative","scale":{"domain":[-0.7,-0.348],"nice":false,"zero":false},"axis":{"values":[-0.7,-0.6,-0.5,-0.4],"format":".1f","offset":16,"tickSize":11,"labelPadding":5,"title":"Log learning rate","titleFontSize":22,"titleAngle":270,"titleAlign":"center","titleBaseline":"alphabetic","titleX":-78,"titleY":116}},
             "x":{"field":"xl","type":"quantitative","scale":{"domain":[-0.5,1.5],"nice":false,"zero":false},"axis":{"values":[0,1],"labelExpr":"datum.value==0?'HC':'PAT'","title":null,"labelBaseline":"alphabetic","labelPadding":26}},
             "x2":{"field":"xr"},
             "detail":{"field":"g","type":"nominal"},
             "color":{"condition":{"test":"datum.g==0","value":"#e8b7c4"},"value":"#fbdde3"}}},
          {"data":{"name":"b"},"transform":[{"calculate":"datum.g+datum.j","as":"px"}],
           "mark":{"type":"circle","size":58,"opacity":0.8},
           "encoding":{"x":{"field":"px","type":"quantitative"},"y":{"field":"v","type":"quantitative"},"color":{"condition":{"test":"datum.g==0","value":"#d23b5c"},"value":"#f9a1b2"}}},
          {"data":{"name":"bs"},"mark":{"type":"rule","strokeWidth":3,"color":"#2e2e2e"},
           "encoding":{"x":{"field":"g","type":"quantitative"},"y":{"field":"lo","type":"quantitative"},"y2":{"field":"hi"}}},
          {"data":{"name":"bs"},"transform":[{"fold":["lo","hi"],"as":["k","e"]}],"mark":{"type":"tick","orient":"horizontal","size":12,"thickness":3,"color":"#2e2e2e"},
           "encoding":{"x":{"field":"g","type":"quantitative"},"y":{"field":"e","type":"quantitative"}}},
          {"data":{"name":"bs"},"mark":{"type":"circle","size":150,"opacity":1,"color":"#2e2e2e"},
           "encoding":{"x":{"field":"g","type":"quantitative"},"y":{"field":"m","type":"quantitative"}}},
          {"data":{"name":"bg"},"mark":{"type":"rule","strokeWidth":2.5,"color":"#111111"},
           "encoding":{"x":{"field":"x1","type":"quantitative"},"x2":{"field":"x2"},"y":{"field":"y","type":"quantitative"}}},
          {"data":{"name":"bg"},"mark":{"type":"text","baseline":"alphabetic","dy":-4,"fontSize":18,"fontStyle":"italic","color":"#111111"},
           "encoding":{"x":{"field":"xm","type":"quantitative"},"y":{"field":"y","type":"quantitative"},"text":{"field":"t"}}}
        ]},
        {"data":{"name":"bs"},"mark":{"type":"point","opacity":0},
         "encoding":{
           "x":{"field":"g","type":"quantitative","axis":{"orient":"bottom","values":[0,1],"labelExpr":"datum.value==0?'(n=54)':'(n=22)'","domain":false,"ticks":false,"labelFontSize":16,"labelPadding":58,"labelBaseline":"alphabetic","labelColor":"#444444","title":"B","titleX":-117,"titleY":-230,"titleAlign":"left","titleBaseline":"alphabetic","titleAngle":0,"titleFontSize":23,"titleFontWeight":"bold","titleColor":"#000000"}},
           "y":{"field":"m","type":"quantitative","axis":null}}}
       ],
       "resolve":{"axis":{"x":"independent","y":"independent"}}},
      {"width":145,"height":218,
       "layer":[
        {"layer":[
          {"data":{"name":"c"},
           "transform":[{"density":"v","groupby":["g"],"extent":[-0.7,-0.345],"steps":200,"bandwidth":0.025},{"joinaggregate":[{"op":"max","field":"density","as":"md"}],"groupby":["g"]},{"calculate":"datum.g-0.4*datum.density/datum.md","as":"xl"},{"calculate":"datum.g+0.4*datum.density/datum.md","as":"xr"}],
           "mark":{"type":"area","orient":"horizontal"},
           "encoding":{
             "y":{"field":"value","type":"quantitative","scale":{"domain":[-0.7,-0.348],"nice":false,"zero":false},"axis":{"values":[-0.7,-0.6,-0.5,-0.4],"labels":false,"offset":13,"tickSize":11,"title":null}},
             "x":{"field":"xl","type":"quantitative","scale":{"domain":[-0.5,1.5],"nice":false,"zero":false},"axis":{"values":[0,1],"labelExpr":"datum.value==0?'Stable':'Volatile'","title":null,"labelBaseline":"alphabetic","labelPadding":25}},
             "x2":{"field":"xr"},
             "detail":{"field":"g","type":"nominal"},
             "color":{"condition":{"test":"datum.g==0","value":"#a9c4da"},"value":"#dbeef9"}}},
          {"data":{"name":"c"},"transform":[{"calculate":"datum.g+datum.j","as":"px"}],
           "mark":{"type":"circle","size":58,"opacity":0.8},
           "encoding":{"x":{"field":"px","type":"quantitative"},"y":{"field":"v","type":"quantitative"},"color":{"condition":{"test":"datum.g==0","value":"#1a6db0"},"value":"#8dcef2"}}},
          {"data":{"name":"cs"},"mark":{"type":"rule","strokeWidth":3,"color":"#2e2e2e"},
           "encoding":{"x":{"field":"g","type":"quantitative"},"y":{"field":"lo","type":"quantitative"},"y2":{"field":"hi"}}},
          {"data":{"name":"cs"},"transform":[{"fold":["lo","hi"],"as":["k","e"]}],"mark":{"type":"tick","orient":"horizontal","size":12,"thickness":3,"color":"#2e2e2e"},
           "encoding":{"x":{"field":"g","type":"quantitative"},"y":{"field":"e","type":"quantitative"}}},
          {"data":{"name":"cs"},"mark":{"type":"circle","size":150,"opacity":1,"color":"#2e2e2e"},
           "encoding":{"x":{"field":"g","type":"quantitative"},"y":{"field":"m","type":"quantitative"}}},
          {"data":{"name":"cg"},"mark":{"type":"rule","strokeWidth":2.5,"color":"#111111"},
           "encoding":{"x":{"field":"x1","type":"quantitative"},"x2":{"field":"x2"},"y":{"field":"y","type":"quantitative"}}},
          {"data":{"name":"cg"},"mark":{"type":"text","baseline":"alphabetic","dy":-4,"fontSize":18,"fontStyle":"italic","color":"#111111"},
           "encoding":{"x":{"field":"xm","type":"quantitative"},"y":{"field":"y","type":"quantitative"},"text":{"field":"t"}}}
        ]},
        {"data":{"name":"cs"},"mark":{"type":"point","opacity":0},
         "encoding":{
           "x":{"field":"g","type":"quantitative","axis":{"orient":"bottom","values":[0,1],"labelExpr":"'(n=86)'","domain":false,"ticks":false,"labelFontSize":16,"labelPadding":56,"labelBaseline":"alphabetic","labelColor":"#444444","title":"C","titleX":-67,"titleY":-232,"titleAlign":"left","titleBaseline":"alphabetic","titleAngle":0,"titleFontSize":23,"titleFontWeight":"bold","titleColor":"#000000"}},
           "y":{"field":"m","type":"quantitative","axis":null}}}
       ],
       "resolve":{"axis":{"x":"independent","y":"independent"}}}
    ], "spacing": 100, "bounds": "flush"},
    {"width":146,"height":223,
     "layer":[
      {"layer":[
        {"data":{"name":"d"},
         "transform":[{"density":"v","groupby":["g"],"extent":[-0.7,-0.345],"steps":200,"bandwidth":0.023},{"joinaggregate":[{"op":"max","field":"density","as":"md"}],"groupby":["g"]},{"calculate":"datum.g-0.4*datum.density/datum.md","as":"xl"},{"calculate":"datum.g+0.4*datum.density/datum.md","as":"xr"}],
         "mark":{"type":"area","orient":"horizontal"},
         "encoding":{
           "y":{"field":"value","type":"quantitative","scale":{"domain":[-0.7,-0.3403],"nice":false,"zero":false},"axis":{"values":[-0.7,-0.6,-0.5,-0.4],"labels":false,"offset":13,"tickSize":11,"title":null}},
           "x":{"field":"xl","type":"quantitative","scale":{"domain":[-0.5,1.5],"nice":false,"zero":false},"axis":{"values":[0,1],"labelExpr":"datum.value==0?'Positive':'Negative'","labelBaseline":"alphabetic","labelPadding":19,"labelOffset":{"condition":{"test":"datum.value==1","value":9},"value":-2},"title":"Outcome valence","titleFontSize":20,"titleX":76,"titleY":80,"titleAlign":"center","titleBaseline":"alphabetic"}},
           "x2":{"field":"xr"},
           "detail":{"field":"g","type":"nominal"},
           "color":{"condition":{"test":"datum.g==0","value":"#f0d0d2"},"value":"#f8e5e5"}}},
        {"data":{"name":"d"},"transform":[{"calculate":"datum.g+datum.j","as":"px"}],
         "mark":{"type":"circle","size":58,"opacity":0.8},
         "encoding":{"x":{"field":"px","type":"quantitative"},"y":{"field":"v","type":"quantitative"},"color":{"condition":{"test":"datum.g==0","value":"#d7787d"},"value":"#efb9b8"}}},
        {"data":{"name":"ds"},"mark":{"type":"rule","strokeWidth":3,"color":"#2e2e2e"},
         "encoding":{"x":{"field":"g","type":"quantitative"},"y":{"field":"lo","type":"quantitative"},"y2":{"field":"hi"}}},
        {"data":{"name":"ds"},"transform":[{"fold":["lo","hi"],"as":["k","e"]}],"mark":{"type":"tick","orient":"horizontal","size":12,"thickness":3,"color":"#2e2e2e"},
         "encoding":{"x":{"field":"g","type":"quantitative"},"y":{"field":"e","type":"quantitative"}}},
        {"data":{"name":"ds"},"mark":{"type":"circle","size":150,"opacity":1,"color":"#2e2e2e"},
         "encoding":{"x":{"field":"g","type":"quantitative"},"y":{"field":"m","type":"quantitative"}}},
        {"data":{"name":"dg"},"mark":{"type":"rule","strokeWidth":2.5,"color":"#111111"},
         "encoding":{"x":{"field":"x1","type":"quantitative"},"x2":{"field":"x2"},"y":{"field":"y","type":"quantitative"}}},
        {"data":{"name":"dg"},"mark":{"type":"text","baseline":"alphabetic","dy":-4,"fontSize":18,"fontStyle":"italic","color":"#111111"},
         "encoding":{"x":{"field":"xm","type":"quantitative"},"y":{"field":"y","type":"quantitative"},"text":{"field":"t"}}}
      ]},
      {"data":{"name":"ds"},"mark":{"type":"point","opacity":0},
       "encoding":{
         "x":{"field":"g","type":"quantitative","axis":{"orient":"bottom","values":[0,1],"labelExpr":"'(n=86)'","domain":false,"ticks":false,"labelFontSize":16,"labelPadding":52,"labelBaseline":"alphabetic","labelOffset":{"condition":{"test":"datum.value==1","value":9},"value":-2},"labelColor":"#444444","title":"D","titleX":-50,"titleY":-237,"titleAlign":"left","titleBaseline":"alphabetic","titleAngle":0,"titleFontSize":23,"titleFontWeight":"bold","titleColor":"#000000"}},
         "y":{"field":"m","type":"quantitative","axis":null}}}
     ],
     "resolve":{"axis":{"x":"independent","y":"independent"}}}
  ], "spacing": 33, "bounds": "full"}
]
}
